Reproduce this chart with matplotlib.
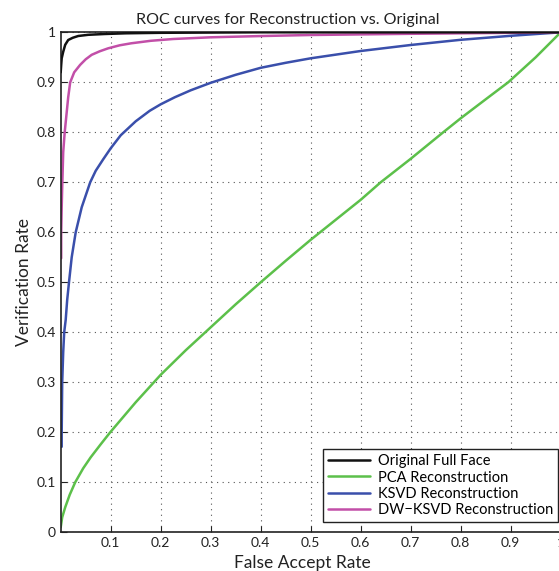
import matplotlib
matplotlib.use('Agg')
import matplotlib.pyplot as plt

plt.rcParams['font.family'] = ['Lato', 'DejaVu Sans']

# Точки (FAR, VR)
orig_x = [0.0, 0.001, 0.002, 0.005, 0.009, 0.015, 0.024, 0.035, 0.055, 0.088, 0.13, 0.2, 0.4, 1.0]
orig_y = [0.92, 0.935, 0.948, 0.961, 0.975, 0.9846, 0.989, 0.9926, 0.995, 0.9966, 0.998, 0.999, 1.0, 1.0]

pca_x = [0.0, 0.003, 0.009, 0.018, 0.029, 0.045, 0.06, 0.08, 0.099, 0.15, 0.2, 0.25, 0.3, 0.35, 0.4, 0.45, 0.5,
         0.55, 0.6, 0.64, 0.7, 0.765, 0.8, 0.85, 0.895, 0.95, 1.0]
pca_y = [0.01, 0.03, 0.05, 0.075, 0.1, 0.128, 0.15, 0.176, 0.2, 0.26, 0.315, 0.364, 0.41, 0.456, 0.5, 0.543, 0.585,
         0.625, 0.665, 0.7, 0.747, 0.8, 0.828, 0.866, 0.9, 0.95, 1.0]

ksvd_x = [0.002, 0.002, 0.003, 0.005, 0.007, 0.010, 0.013, 0.0166, 0.022, 0.03, 0.042, 0.059, 0.07, 0.085, 0.1, 0.12,
          0.15, 0.178, 0.2, 0.228, 0.26, 0.3, 0.35, 0.4, 0.45, 0.5, 0.6, 0.7, 0.8, 0.9, 1.0]
ksvd_y = [0.171, 0.2, 0.3, 0.36, 0.4, 0.425, 0.465, 0.5, 0.55, 0.6, 0.65, 0.7, 0.723, 0.746, 0.768, 0.794,
          0.822, 0.843, 0.856, 0.870, 0.884, 0.899, 0.915, 0.929, 0.939, 0.948, 0.9626, 0.9746, 0.985, 0.993, 1.0]

dw_x = [0.001, 0.001, 0.002, 0.003, 0.005, 0.008, 0.011, 0.015, 0.019, 0.027, 0.039, 0.05, 0.062, 0.078, 0.095,
        0.118, 0.141, 0.18, 0.225, 0.3, 0.4, 0.5, 0.7, 0.85, 1.0]
dw_y = [0.548, 0.6, 0.65, 0.69, 0.76, 0.8, 0.83, 0.87, 0.9, 0.92, 0.935, 0.946, 0.955, 0.962, 0.968,
        0.974, 0.978, 0.983, 0.9866, 0.99, 0.9925, 0.9946, 0.997, 0.9985, 1.0]

x_ticks = [0.1, 0.2, 0.3, 0.4, 0.5, 0.6, 0.7, 0.8, 0.9, 1.0]
x_labels = ['0.1', '0.2', '0.3', '0.4', '0.5', '0.6', '0.7', '0.8', '0.9', '1']
y_ticks = [0, 0.1, 0.2, 0.3, 0.4, 0.5, 0.6, 0.7, 0.8, 0.9, 1.0]
y_labels = ['0', '0.1', '0.2', '0.3', '0.4', '0.5', '0.6', '0.7', '0.8', '0.9', '1']

fig = plt.figure(figsize=(5.59, 5.71), dpi=100)
# ось выходит чуть за правый край картинки, как в оригинале
ax = fig.add_axes([60.7 / 559, 38.7 / 571, 500 / 559, 500 / 571])

kw = dict(lw=1.8, solid_joinstyle='round', solid_capstyle='round')
ax.plot(orig_x, orig_y, color='#111111', label='Original Full Face', zorder=5, **kw)
ax.plot(pca_x, pca_y, color='#5cc04a', label='PCA Reconstruction', **kw)
ax.plot(ksvd_x, ksvd_y, color='#3a4fab', label='KSVD Reconstruction', **kw)
ax.plot(dw_x, dw_y, color='#c24fa8', label='DW\u2212KSVD Reconstruction', **kw)

ax.set_xlim(0, 1)
ax.set_ylim(0, 1)
ax.set_xticks(x_ticks)
ax.set_xticklabels(x_labels)
ax.set_yticks(y_ticks)
ax.set_yticklabels(y_labels)
ax.tick_params(direction='in', labelsize=10, length=4, color='#222222', labelcolor='#222222')
ax.grid(True, linestyle=(0, (1, 4)), color='#555555', lw=0.8)
for s in ax.spines.values():
    s.set_linewidth(1.2)
    s.set_color('#222222')

t = ax.set_title('ROC curves for Reconstruction vs. Original', fontsize=11.6, color='#222222', pad=6)
t.set_x(0.4546)
ax.set_xlabel('False Accept Rate', fontsize=12.5, color='#222222', labelpad=4)
ax.xaxis.label.set_x(0.4826)
ax.set_ylabel('Verification Rate', fontsize=12.5, color='#222222', labelpad=3)

leg = ax.legend(loc='lower right', bbox_to_anchor=(0.9946, 0.0206), borderaxespad=0,
                fontsize=10.5, fancybox=False, framealpha=1, edgecolor='#222222',
                handlelength=2.9, handletextpad=0.5, labelspacing=0.15, borderpad=0.35)
leg.get_frame().set_linewidth(1.0)

fig.savefig('out.png', dpi=100)
